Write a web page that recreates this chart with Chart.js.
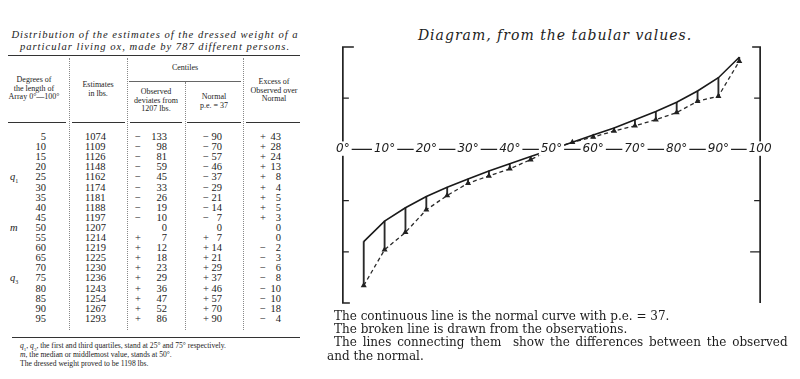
<!DOCTYPE html>
<html>
<head>
<meta charset="utf-8">
<script src="https://cdn.jsdelivr.net/npm/chart.js@4/dist/chart.umd.min.js"></script>
<style>
  body { margin: 0; background: #fff; }
  #page { position: relative; width: 800px; height: 379px; overflow: hidden; color: #1c1c1c; font-family: "Liberation Serif", serif; }
  .abs { position: absolute; white-space: nowrap; }
  .title { left: 0; width: 310px; text-align: center; font-style: italic; font-size: 10.6px; letter-spacing: 1px; }
  .rule { position: absolute; height: 0; border-top: 1px solid #333; }
  .vsep { position: absolute; width: 0; border-left: 1px dotted #888; }
  .head { position: absolute; text-align: center; font-size: 8px; line-height: 8.6px; }
  .row { position: absolute; left: 0; width: 310px; height: 10px; font-size: 10.5px; line-height: 10px; }
  .row span { position: absolute; }
  .note { left: 20px; font-size: 7.6px; }
  #chartBox { position: absolute; left: 309px; top: 40px; width: 502px; height: 275px; }
  .diag-title { left: 330px; width: 450px; top: 27px; text-align: center; font-family: "DejaVu Serif", serif; font-style: italic; font-size: 14px; letter-spacing: 1px; }
  .caption { left: 334px; font-family: "DejaVu Serif", serif; font-size: 12px; line-height: 13.3px; }
</style>
</head>
<body>
<div id="page">
  <div class="abs title" style="top:29px">Distribution of the estimates of the dressed weight of a</div>
  <div class="abs title" style="top:41px">particular living ox, made by 787 different persons.</div>
  <div class="rule" style="left:8px; width:292px; top:55px; border-top-width:1.5px"></div>

  <div class="head" style="left:0; width:68px; top:76px">Degrees of<br>the length of<br>Array 0°—100°</div>
  <div class="head" style="left:70px; width:56px; top:81px">Estimates<br>in lbs.</div>
  <div class="head" style="left:128px; width:114px; top:64px">Centiles</div>
  <div class="rule" style="left:129px; width:112px; top:81px; border-top-color:#666"></div>
  <div class="head" style="left:128px; width:56px; top:88px">Observed<br>deviates from<br>1207 lbs.</div>
  <div class="head" style="left:186px; width:56px; top:93px">Normal<br>p.e. = 37</div>
  <div class="head" style="left:244px; width:60px; top:78px">Excess of<br>Observed over<br>Normal</div>

  <div class="rule" style="left:8px; width:58px; top:122px"></div>
  <div class="rule" style="left:72px; width:53px; top:122px"></div>
  <div class="rule" style="left:130px; width:52px; top:122px"></div>
  <div class="rule" style="left:187px; width:54px; top:122px"></div>
  <div class="rule" style="left:246px; width:54px; top:122px"></div>

  <div class="vsep" style="left:69px; top:58px; height:272px"></div>
  <div class="vsep" style="left:127px; top:58px; height:272px"></div>
  <div class="vsep" style="left:185px; top:82px; height:248px"></div>
  <div class="vsep" style="left:243px; top:58px; height:272px"></div>

  <div id="rows"></div>

  <div class="rule" style="left:12px; width:288px; top:337px"></div>
  <div class="abs note" style="top:341px"><i>q</i><sub style="font-size:5px">1</sub>, <i>q</i><sub style="font-size:5px">3</sub>, the first and third quartiles, stand at 25° and 75° respectively.</div>
  <div class="abs note" style="top:350px"><i>m</i>, the median or middlemost value, stands at 50°.</div>
  <div class="abs note" style="top:359px">The dressed weight proved to be 1198 lbs.</div>

  <div class="abs diag-title">Diagram, from the tabular values.</div>
  <div id="chartBox"><canvas id="diagram"></canvas></div>
  <div class="abs caption" style="top:310px">The continuous line is the normal curve with p.e. = 37.</div>
  <div class="abs caption" style="top:323px">The broken line is drawn from the observations.</div>
  <div class="abs caption" style="top:336px; word-spacing:2px">The lines connecting them&nbsp; show the differences between the observed</div>
  <div class="abs caption" style="top:350px; left:327px">and the normal.</div>
</div>

<script>
// valores de la tabla
const degrees = [5, 10, 15, 20, 25, 30, 35, 40, 45, 50, 55, 60, 65, 70, 75, 80, 85, 90, 95];
const estimates = [1074, 1109, 1126, 1148, 1162, 1174, 1181, 1188, 1197, 1207, 1214, 1219, 1225, 1230, 1236, 1243, 1254, 1267, 1293];
const observed = [-133, -98, -81, -59, -45, -33, -26, -19, -10, 0, 7, 12, 18, 23, 29, 36, 47, 52, 86];
const normal = [-90, -70, -57, -46, -37, -29, -21, -14, -7, 0, 7, 14, 21, 29, 37, 46, 57, 70, 90];
const excess = [43, 28, 24, 13, 8, 4, 5, 5, 3, 0, 0, -2, -3, -6, -8, -10, -10, -18, -4];
const rowMarks = { 25: "<i>q</i><sub style='font-size:6px'>1</sub>", 50: "<i>m</i>", 75: "<i>q</i><sub style='font-size:6px'>3</sub>" };

// ejes del diagrama
const xTickLabels = ["0°", "10°", "20°", "30°", "40°", "50°", "60°", "70°", "80°", "90°", "100"];
const yMin = -150;
const yMax = 100;
const yBracketTicks = [50, -50, -100];

const sign = (v) => (v > 0 ? "+" : v < 0 ? "−" : "");

// filas de la tabla
document.getElementById("rows").innerHTML = degrees
  .map(
    (d, i) => `
    <div class="row" style="top:${132 + i * 10.1}px">
      <span style="left:10px">${rowMarks[d] || ""}</span>
      <span style="right:${310 - 46}px">${d}</span>
      <span style="left:85px">${estimates[i]}</span>
      <span style="left:135px">${sign(observed[i])}</span>
      <span style="right:${310 - 167}px">${Math.abs(observed[i])}</span>
      <span style="left:203px">${sign(normal[i])}</span>
      <span style="right:${310 - 222}px">${Math.abs(normal[i])}</span>
      <span style="left:260px">${sign(excess[i])}</span>
      <span style="right:${310 - 281}px">${Math.abs(excess[i])}</span>
    </div>`
  )
  .join("");

// corchetes laterales, marcas y línea del eje 0°–100°
const bracketPlugin = {
  id: "brackets",
  beforeDatasetsDraw(chart) {
    const { ctx, scales: { x, y } } = chart;
    const left = x.getPixelForValue(0);
    const right = x.getPixelForValue(100);
    const top = y.getPixelForValue(yMax);
    const bottom = y.getPixelForValue(yMin);
    const zero = y.getPixelForValue(0);
    ctx.save();
    ctx.strokeStyle = "#222";
    ctx.lineWidth = 1.7;
    ctx.beginPath();
    ctx.moveTo(left + 11, top);
    ctx.lineTo(left, top);
    ctx.lineTo(left, bottom);
    ctx.lineTo(left + 7, bottom);
    ctx.moveTo(right - 8, top);
    ctx.lineTo(right, top);
    ctx.lineTo(right, bottom);
    ctx.stroke();
    ctx.lineWidth = 1.2;
    ctx.beginPath();
    yBracketTicks.forEach((v) => {
      const py = y.getPixelForValue(v);
      ctx.moveTo(left, py);
      ctx.lineTo(left + 6, py);
      ctx.moveTo(right, py);
      ctx.lineTo(right - (v === -100 ? 10 : 6), py);
    });
    ctx.moveTo(left, zero);
    ctx.lineTo(right, zero);
    ctx.stroke();
    ctx.restore();
  },
};

const ctx = document.getElementById("diagram").getContext("2d");
new Chart(ctx, {
  type: "line",
  data: {
    datasets: [
      {
        label: "Normal",
        data: degrees.map((d, i) => ({ x: d, y: normal[i] })),
        borderColor: "#1a1a1a",
        borderWidth: 1.6,
        pointRadius: 0,
        tension: 0,
      },
      {
        label: "Observed",
        data: degrees.map((d, i) => ({ x: d, y: observed[i] })),
        borderColor: "#2a2a2a",
        borderWidth: 1.3,
        borderDash: [4, 3],
        pointStyle: "triangle",
        pointRadius: 2.2,
        pointBackgroundColor: "#222",
        pointBorderColor: "#222",
        tension: 0,
      },
      {
        type: "bar",
        label: "Differences",
        data: degrees.map((d, i) => ({ x: d, y: [observed[i], normal[i]] })),
        backgroundColor: "#2a2a2a",
        barThickness: 1.2,
        grouped: false,
      },
    ],
  },
  options: {
    responsive: true,
    maintainAspectRatio: false,
    animation: false,
    events: [],
    layout: { padding: { left: 13, right: 30, top: 7, bottom: 12 } },
    scales: {
      x: {
        type: "linear",
        min: 0,
        max: 100,
        position: { y: 0 },
        grid: { display: false, drawTicks: false },
        border: { display: false },
        ticks: {
          z: 1,
          stepSize: 10,
          autoSkip: false,
          maxRotation: 0,
          padding: -8,
          color: "#1c1c1c",
          font: { family: "DejaVu Sans", style: "italic", size: 12 },
          showLabelBackdrop: true,
          backdropColor: "#fff",
          backdropPadding: { x: 2, y: 0 },
          callback: (v, i) => xTickLabels[i],
        },
      },
      y: {
        type: "linear",
        min: yMin,
        max: yMax,
        display: false,
      },
    },
    plugins: {
      legend: { display: false },
      tooltip: { enabled: false },
    },
  },
  plugins: [bracketPlugin],
});
</script>
</body>
</html>
